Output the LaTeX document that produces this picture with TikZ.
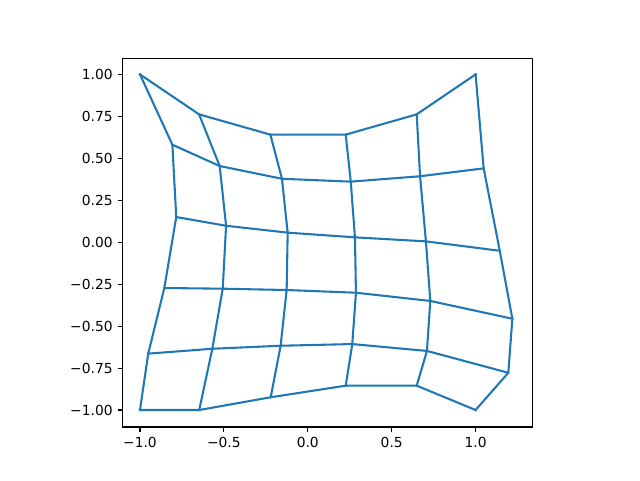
\documentclass[tikz,border=0pt]{standalone}
\usepackage{fontspec}
\setmainfont{DejaVu Sans}
\usepackage{xcolor}
\usetikzlibrary{calc}
\definecolor{mallablue}{HTML}{1F77B4}

\begin{document}
\begin{tikzpicture}[x=4.262cm, y=4.262cm,
        malla/.style={mallablue, line width=1.5pt, line join=round, line cap=rect},
        eje/.style={black, line width=0.8pt},
        marca/.style={black, line width=0.8pt},
        etiqueta/.style={inner sep=0pt, font=\fontsize{10}{12}\selectfont}]
        % Marco de la figura
        \useasboundingbox (-1.8343,-1.4172) rectangle (1.9797,1.4434);

        % Puntos de la malla deformada (fila por fila, de arriba abajo)
        \foreach \fila [count=\r from 0] in {
            {-1.000/1.000, -0.648/0.762, -0.223/0.641, 0.226/0.641, 0.649/0.762, 1.000/1.000},
            {-0.807/0.581, -0.525/0.454, -0.154/0.378, 0.256/0.361, 0.669/0.393, 1.048/0.440},
            {-0.784/0.150, -0.487/0.098, -0.120/0.057, 0.281/0.029, 0.704/0.005, 1.144/-0.051},
            {-0.855/-0.273, -0.507/-0.277, -0.126/-0.285, 0.287/-0.301, 0.730/-0.350, 1.219/-0.456},
            {-0.951/-0.664, -0.569/-0.635, -0.162/-0.617, 0.265/-0.607, 0.710/-0.648, 1.195/-0.778},
            {-1.000/-1.000, -0.647/-1.000, -0.221/-0.924, 0.226/-0.855, 0.649/-0.855, 1.000/-1.000}}{
            \foreach \x/\y [count=\c from 0] in \fila {
                \coordinate (p-\r-\c) at (\x,\y);
            }
        }

        % Lineas horizontales de la malla
        \foreach \r in {0,...,5}{
            \draw[malla] (p-\r-0) \foreach \c in {1,...,5}{ -- (p-\r-\c)};
        }
        % Lineas verticales de la malla
        \foreach \c in {0,...,5}{
            \draw[malla] (p-0-\c) \foreach \r in {1,...,5}{ -- (p-\r-\c)};
        }

        % Ejes
        \coordinate (ejeSO) at (-1.102,-1.101);
        \coordinate (ejeNE) at (1.341,1.096);
        \draw[eje] (ejeSO) rectangle (ejeNE);

        % Marcas del eje x
        \foreach \t/\lab in {-1.0/−1.0, -0.5/−0.5, 0.0/0.0, 0.5/0.5, 1.0/1.0}{
            \draw[marca] (\t,-1.101) -- ++(0,-3.5pt)
                node[etiqueta, anchor=north, yshift=-3.5pt] {\lab};
        }
        % Marcas del eje y
        \foreach \t/\lab in {1.0/1.00, 0.75/0.75, 0.5/0.50, 0.25/0.25, 0.0/0.00,
                             -0.25/−0.25, -0.5/−0.50, -0.75/−0.75, -1.0/−1.00}{
            \draw[marca] (-1.102,\t) -- ++(-3.5pt,0)
                node[etiqueta, anchor=east, xshift=-3.5pt] {\lab};
        }
    \end{tikzpicture}
\end{document}
